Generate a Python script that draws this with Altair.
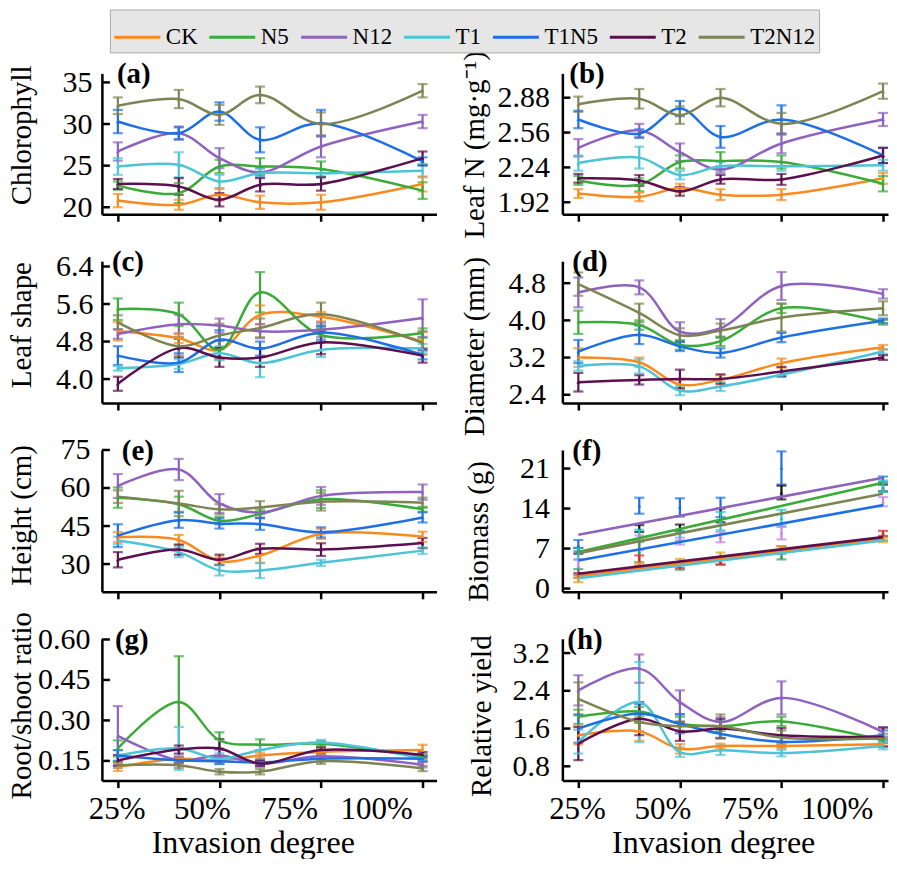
import altair as alt
import pandas as pd

SERIES = ["CK", "N5", "N12", "T1", "T1N5", "T2", "T2N12"]
COLORS = ["#fb8a1e", "#3aab37", "#8f62bf", "#4cc4d6", "#1d6fe6", "#5c0f4f", "#7d8453"]
INVASION = [25, 40, 50, 60, 75, 100]

X_TICKS = [25, 50, 75, 100]
X_LABELS = ["25%", "50%", "75%", "100%"]
X_LABEL_POS = [24.8, 45.8, 67.3, 88.7]

# (a) Chlorophyll
a_mean = {"CK": [20.8, 20.3, 21.5, 20.6, 20.6, 22.8], "N5": [22.6, 21.7, 24.9, 24.9, 24.6, 22.0],
          "N12": [26.7, 28.9, 25.9, 24.2, 27.3, 30.3], "T1": [24.9, 25.1, 23.1, 24.1, 24.1, 24.4],
          "T1N5": [30.3, 28.9, 31.5, 28.1, 30.1, 25.5], "T2": [22.8, 22.5, 20.9, 22.7, 22.8, 25.9],
          "T2N12": [32.2, 33.0, 31.1, 33.5, 30.0, 34.0]}
a_err = {"CK": [0.8, 0.6, 0.7, 0.8, 0.9, 0.9], "N5": [0.5, 1.2, 0.8, 1.0, 0.9, 1.0],
         "N12": [1.1, 0.8, 1.2, 0.5, 1.3, 0.8], "T1": [1.0, 1.5, 0.8, 0.5, 0.5, 0.8],
         "T1N5": [1.4, 0.7, 1.1, 1.5, 1.6, 0.5], "T2": [0.6, 1.0, 0.8, 0.8, 0.8, 0.8],
         "T2N12": [1.0, 1.1, 1.2, 1.0, 1.4, 0.8]}

# (b) Leaf N
b_mean = {"CK": [2.00, 1.97, 2.05, 1.99, 1.99, 2.14], "N5": [2.12, 2.08, 2.29, 2.30, 2.29, 2.09],
          "N12": [2.42, 2.58, 2.38, 2.22, 2.46, 2.68], "T1": [2.28, 2.33, 2.17, 2.25, 2.25, 2.26],
          "T1N5": [2.68, 2.55, 2.78, 2.52, 2.68, 2.35], "T2": [2.14, 2.12, 2.02, 2.13, 2.13, 2.35],
          "T2N12": [2.82, 2.87, 2.72, 2.88, 2.64, 2.94]}
b_err = {"CK": [0.04, 0.04, 0.04, 0.05, 0.05, 0.05], "N5": [0.04, 0.06, 0.06, 0.08, 0.06, 0.07],
         "N12": [0.08, 0.06, 0.08, 0.03, 0.09, 0.06], "T1": [0.07, 0.10, 0.04, 0.04, 0.04, 0.05],
         "T1N5": [0.08, 0.04, 0.07, 0.10, 0.13, 0.07], "T2": [0.04, 0.05, 0.04, 0.04, 0.05, 0.07],
         "T2N12": [0.07, 0.09, 0.08, 0.08, 0.10, 0.07]}

# (c) Leaf shape
c_mean = {"CK": [5.02, 4.87, 4.62, 5.37, 5.33, 4.80], "N5": [5.49, 5.38, 4.62, 5.85, 4.94, 4.98],
          "N12": [4.96, 5.17, 5.14, 5.02, 5.05, 5.30], "T1": [4.23, 4.32, 4.55, 4.34, 4.62, 4.65],
          "T1N5": [4.50, 4.35, 4.84, 4.65, 4.99, 4.52], "T2": [3.90, 4.66, 4.46, 4.46, 4.78, 4.50],
          "T2N12": [5.21, 4.70, 4.93, 5.09, 5.38, 4.77]}
c_err = {"CK": [0.2, 0.1, 0.2, 0.2, 0.1, 0.2], "N5": [0.23, 0.25, 0.2, 0.43, 0.15, 0.1],
         "N12": [0.1, 0.2, 0.15, 0.15, 0.15, 0.4], "T1": [0.05, 0.1, 0.15, 0.3, 0.15, 0.1],
         "T1N5": [0.2, 0.2, 0.2, 0.15, 0.15, 0.1], "T2": [0.15, 0.2, 0.2, 0.2, 0.25, 0.15],
         "T2N12": [0.15, 0.2, 0.25, 0.2, 0.25, 0.25]}

# (d) Diameter
d_mean = {"CK": [3.20, 3.10, 2.62, 2.72, 3.08, 3.42], "N5": [3.96, 3.90, 3.47, 3.55, 4.26, 3.96],
          "N12": [4.60, 4.71, 3.76, 3.83, 4.74, 4.57], "T1": [3.02, 3.01, 2.49, 2.58, 2.83, 3.33],
          "T1N5": [3.33, 3.69, 3.44, 3.30, 3.63, 3.99], "T2": [2.67, 2.72, 2.74, 2.74, 2.90, 3.20],
          "T2N12": [4.78, 4.16, 3.68, 3.78, 4.06, 4.26]}
d_err = {"CK": [0.2, 0.1, 0.1, 0.1, 0.1, 0.05], "N5": [0.25, 0.1, 0.1, 0.1, 0.1, 0.05],
         "N12": [0.32, 0.15, 0.2, 0.2, 0.3, 0.1], "T1": [0.1, 0.15, 0.1, 0.1, 0.05, 0.05],
         "T1N5": [0.25, 0.2, 0.1, 0.1, 0.1, 0.05], "T2": [0.2, 0.1, 0.2, 0.1, 0.1, 0.05],
         "T2N12": [0.25, 0.2, 0.15, 0.15, 0.3, 0.15]}

# (e) Height
e_mean = {"CK": [40.6, 39.5, 31.2, 33.4, 41.9, 40.8], "N5": [56.2, 53.6, 47.1, 49.7, 55.6, 51.6],
          "N12": [60.8, 67.3, 53.9, 50.3, 56.9, 58.4], "T1": [39.3, 34.7, 27.5, 27.5, 30.5, 35.3],
          "T1N5": [41.2, 47.3, 46.0, 45.8, 42.5, 48.4], "T2": [31.7, 35.7, 31.7, 36.0, 35.7, 38.3],
          "T2N12": [56.6, 53.9, 51.6, 52.3, 54.6, 54.2]}
e_err = {"CK": [2, 2, 1.5, 3, 2, 2], "N5": [4, 3, 1.5, 1.5, 3.5, 1],
         "N12": [4.7, 4.2, 3.7, 2, 3.5, 3], "T1": [1.5, 2, 2, 3, 1.2, 1.3],
         "T1N5": [4.5, 3, 2, 2.3, 2, 2], "T2": [3, 2, 2, 2, 2.5, 2],
         "T2N12": [2.5, 5, 2, 2.5, 3.5, 2]}

# (f) Biomass: fitted lines (values at 25% and 100%) and measured points
F_LINE_X = [25, 100]
f_line_ends = {"CK": [2.2, 8.7], "N5": [6.4, 18.5], "N12": [9.4, 19.4], "T1": [1.8, 8.4],
               "T1N5": [4.9, 14.6], "T2": [2.6, 9.0], "T2N12": [6.2, 16.6]}
f_point_colors = ["#1f6fe0", "#111111", "#1fc6c9", "#c585e6", "#2e9e62", "#e3262e", "#d9a520"]
f_point_mean = [[7.5, 14.5, 14.2, 14.2, 21.1, 19.1],
                [6.6, 10.5, 10.6, 12.8, 16.8, 17.6],
                [6.1, 9.3, 9.2, 11.8, 12.3, 17.9],
                [3.9, 8.0, 8.3, 9.0, 9.8, 15.2],
                [2.9, 6.4, 3.8, 4.6, 5.6, 8.8],
                [2.3, 4.9, 4.1, 4.8, 6.9, 9.6],
                [1.5, 4.1, 4.8, 5.8, 6.9, 8.5]]
f_point_err = [[1.0, 1.4, 1.6, 1.7, 2.9, 0.5],
               [0.5, 0.6, 0.6, 1.2, 1.2, 0.6],
               [1.0, 1.0, 0.8, 1.6, 1.5, 1.0],
               [1.2, 1.3, 0.6, 0.9, 1.2, 0.8],
               [0.5, 1.8, 0.5, 0.4, 0.5, 0.4],
               [0.4, 0.9, 0.5, 0.6, 0.5, 0.5],
               [0.4, 0.4, 0.4, 0.5, 0.5, 0.4]]

# (g) Root/shoot ratio
g_mean = {"CK": [0.128, 0.158, 0.152, 0.170, 0.183, 0.190], "N5": [0.196, 0.368, 0.226, 0.210, 0.214, 0.165],
          "N12": [0.243, 0.152, 0.170, 0.140, 0.167, 0.136], "T1": [0.170, 0.196, 0.158, 0.190, 0.218, 0.158],
          "T1N5": [0.170, 0.152, 0.149, 0.145, 0.158, 0.158], "T2": [0.152, 0.192, 0.196, 0.140, 0.190, 0.173],
          "T2N12": [0.134, 0.134, 0.110, 0.110, 0.149, 0.122]}
g_err = {"CK": [0.015, 0.01, 0.01, 0.01, 0.01, 0.02], "N5": [0.03, 0.17, 0.03, 0.02, 0.01, 0.01],
         "N12": [0.11, 0.01, 0.02, 0.01, 0.01, 0.01], "T1": [0.02, 0.08, 0.02, 0.02, 0.01, 0.01],
         "T1N5": [0.02, 0.01, 0.01, 0.01, 0.01, 0.01], "T2": [0.02, 0.015, 0.035, 0.01, 0.01, 0.01],
         "T2N12": [0.01, 0.01, 0.01, 0.01, 0.01, 0.01]}

# (h) Relative yield
h_mean = {"CK": [1.46, 1.54, 1.17, 1.23, 1.23, 1.27], "N5": [1.85, 1.96, 1.70, 1.65, 1.75, 1.35],
          "N12": [2.41, 2.87, 2.16, 1.74, 2.25, 1.53], "T1": [1.32, 2.16, 1.10, 1.14, 1.08, 1.23],
          "T1N5": [1.60, 1.92, 1.70, 1.49, 1.32, 1.46], "T2": [1.28, 1.81, 1.54, 1.60, 1.46, 1.42],
          "T2N12": [2.23, 1.74, 1.65, 1.65, 1.41, 1.39]}
h_err = {"CK": [0.2, 0.2, 0.1, 0.05, 0.05, 0.05], "N5": [0.15, 0.1, 0.15, 0.1, 0.1, 0.05],
         "N12": [0.32, 0.3, 0.25, 0.1, 0.35, 0.1], "T1": [0.25, 0.85, 0.1, 0.1, 0.07, 0.07],
         "T1N5": [0.3, 0.2, 0.2, 0.1, 0.1, 0.1], "T2": [0.35, 0.35, 0.2, 0.2, 0.15, 0.2],
         "T2N12": [0.35, 0.2, 0.1, 0.25, 0.15, 0.1]}

SERIF = "Liberation Serif"
COL_X = {1: ([21.07, 103.43], 335), 2: ([21.07, 101.23], 326)}
SERIES_COLOR = dict(zip(SERIES, COLORS))


def long_table(means, errs):
    rows = []
    for s in SERIES:
        for x, m, e in zip(INVASION, means[s], errs[s]):
            rows.append({"series": s, "c": SERIES_COLOR[s], "x": x, "y": m, "lo": m - e, "hi": m + e})
    return pd.DataFrame(rows)


def errbar_layers(df, X, yscale, yaxis):
    stroke_enc = alt.Stroke("c:N", scale=None)
    fill_enc = alt.Fill("c:N", scale=None)
    return [
        alt.Chart(df).mark_rule(strokeWidth=2.2).encode(
            x=X, y=alt.Y("lo:Q", scale=yscale, axis=yaxis), y2="hi:Q", stroke=stroke_enc),
        alt.Chart(df).mark_tick(orient="horizontal", size=10, thickness=2.2).encode(
            x=X, y=alt.Y("lo:Q", scale=yscale, axis=yaxis), fill=fill_enc),
        alt.Chart(df).mark_tick(orient="horizontal", size=10, thickness=2.2).encode(
            x=X, y=alt.Y("hi:Q", scale=yscale, axis=yaxis), fill=fill_enc),
        alt.Chart(df).mark_point(shape="triangle-up", filled=True, size=14, opacity=1).encode(
            x=X, y=alt.Y("y:Q", scale=yscale, axis=yaxis), fill=fill_enc),
    ]


def make_panel(p):
    xdom, w = COL_X[p["col"]]
    h = p["h"]
    xscale = alt.Scale(domain=xdom, nice=False, zero=False)
    yscale = alt.Scale(domain=p["ydom"], nice=False, zero=False)
    if p.get("bottom"):
        xaxis = alt.Axis(values=X_TICKS, labels=False, tickSize=7, grid=False,
                         title="Invasion degree", titleFontSize=32, titleX=151, titleY=72,
                         titleBaseline="alphabetic")
    else:
        xaxis = alt.Axis(values=X_TICKS, labels=False, tickSize=7, grid=False, title=None)
    yaxis = alt.Axis(values=p["yticks"], format=p["fmt"], title=p["title"], ticks=False,
                     tickSize=0, labelPadding=p["lpad"], titleX=p["tx"], titleY=p["ty"],
                     titleBaseline="middle", labelFlush=False, labelOverlap=False, grid=False)
    X = alt.X("x:Q", scale=xscale, axis=xaxis)
    col_lg = alt.Color("series:N", scale=alt.Scale(domain=SERIES, range=COLORS),
                       legend=alt.Legend(title=None, symbolType="stroke"))

    layers = []
    tick_df = pd.DataFrame({"v": p["yticks"]})
    layers.append(alt.Chart(tick_df).mark_rule(color="black", strokeWidth=2.5).encode(
        y=alt.Y("v:Q", scale=yscale, axis=yaxis), x=alt.value(0), x2=alt.value(8)))

    if p["key"] == "f":
        for colr, means, errs in zip(f_point_colors, f_point_mean, f_point_err):
            pdf = pd.DataFrame({"x": INVASION, "y": means, "c": colr,
                                "lo": [m - e for m, e in zip(means, errs)],
                                "hi": [m + e for m, e in zip(means, errs)]})
            layers += errbar_layers(pdf, X, yscale, yaxis)
        ldf = pd.DataFrame([{"series": s, "x": x, "y": v}
                            for s in SERIES for x, v in zip(F_LINE_X, f_line_ends[s])])
        layers.append(alt.Chart(ldf).mark_line(strokeWidth=2.6).encode(
            x=X, y=alt.Y("y:Q", scale=yscale, axis=yaxis), color=col_lg))
    else:
        df = long_table(p["mean"], p["err"])
        layers += errbar_layers(df, X, yscale, yaxis)
        layers.append(alt.Chart(df).mark_line(strokeWidth=2.5, interpolate="catmull-rom").encode(
            x=X, y=alt.Y("y:Q", scale=yscale, axis=yaxis), color=col_lg))

    lab_df = pd.DataFrame({"t": [p["label"]]})
    layers.append(alt.Chart(lab_df).mark_text(font=SERIF, fontSize=29, fontWeight="bold",
                                              align="left", baseline="alphabetic", color="black").encode(
        text="t:N", x=alt.value(p["dx"]), y=alt.value(10)))

    if p.get("bottom"):
        xl_df = pd.DataFrame({"lx": X_LABEL_POS, "t": X_LABELS})
        layers.append(alt.Chart(xl_df).mark_text(font=SERIF, fontSize=31, align="center",
                                                 baseline="alphabetic", color="black").encode(
            x=alt.X("lx:Q", scale=xscale, axis=xaxis), y=alt.value(h + 38), text="t:N"))

    return alt.layer(*layers).properties(width=w, height=h)


PANELS = [
    dict(key="a", col=1, h=141, ydom=[19.16, 36.08], yticks=[20, 25, 30, 35], fmt="d",
         title="Chlorophyll", tx=-80, ty=61.5, lpad=10, label="(a)", dx=15, mean=a_mean, err=a_err),
    dict(key="b", col=2, h=141, ydom=[1.81, 3.103], yticks=[1.92, 2.24, 2.56, 2.88], fmt=".2f",
         title="Leaf N (mg·g⁻¹)", tx=-88, ty=71, lpad=13, label="(b)", dx=7, mean=b_mean, err=b_err),
    dict(key="c", col=1, h=142, ydom=[3.489, 6.513], yticks=[4.0, 4.8, 5.6, 6.4], fmt=".1f",
         title="Leaf shape", tx=-80, ty=63.5, lpad=9, label="(c)", dx=10, mean=c_mean, err=c_err),
    dict(key="d", col=2, h=142, ydom=[2.222, 5.273], yticks=[2.4, 3.2, 4.0, 4.8], fmt=".1f",
         title="Diameter (mm)", tx=-88, ty=85, lpad=17, label="(d)", dx=10, mean=d_mean, err=d_err),
    dict(key="e", col=1, h=142, ydom=[19.05, 75.0], yticks=[30, 45, 60, 75], fmt="d",
         title="Height (cm)", tx=-80, ty=65, lpad=12, label="(e)", dx=20, mean=e_mean, err=e_err),
    dict(key="f", col=2, h=142, ydom=[-0.57, 24.25], yticks=[0, 7, 14, 21], fmt="d",
         title="Biomass (g)", tx=-84, ty=81, lpad=13, label="(f)", dx=10),
    dict(key="g", col=1, h=142, ydom=[0.077, 0.6026], yticks=[0.15, 0.30, 0.45, 0.60], fmt=".2f",
         title="Root/shoot ratio", tx=-80, ty=66.5, lpad=12, label="(g)", dx=13, bottom=True,
         mean=g_mean, err=g_err),
    dict(key="h", col=2, h=142, ydom=[0.497, 3.503], yticks=[0.8, 1.6, 2.4, 3.2], fmt=".1f",
         title="Relative yield", tx=-81, ty=77, lpad=13, label="(h)", dx=5, bottom=True,
         mean=h_mean, err=h_err),
]

charts = [make_panel(p) for p in PANELS]
chart = alt.concat(*charts, columns=2, spacing={"row": 47, "column": 126},
                   bounds="flush").properties(padding=0)

chart = chart.configure_view(stroke=None).configure_axis(
    labelFont=SERIF, titleFont=SERIF, labelFontSize=30, titleFontSize=29,
    labelColor="black", titleColor="black", domainColor="black", domainWidth=2.5,
    tickColor="black", tickWidth=2.5, titleFontWeight="normal", grid=False,
).configure_legend(
    orient="none", legendX=8, legendY=-64, direction="horizontal", gridAlign="each",
    fillColor="#e6e6e6", strokeColor="#aaaaaa", padding=3,
    symbolType="stroke", symbolSize=2116, symbolStrokeWidth=3,
    labelFont=SERIF, labelFontSize=23, labelColor="black", labelOffset=4, columnPadding=5,
)

chart.save("out.html", embed_options={"renderer": "svg", "actions": False})
